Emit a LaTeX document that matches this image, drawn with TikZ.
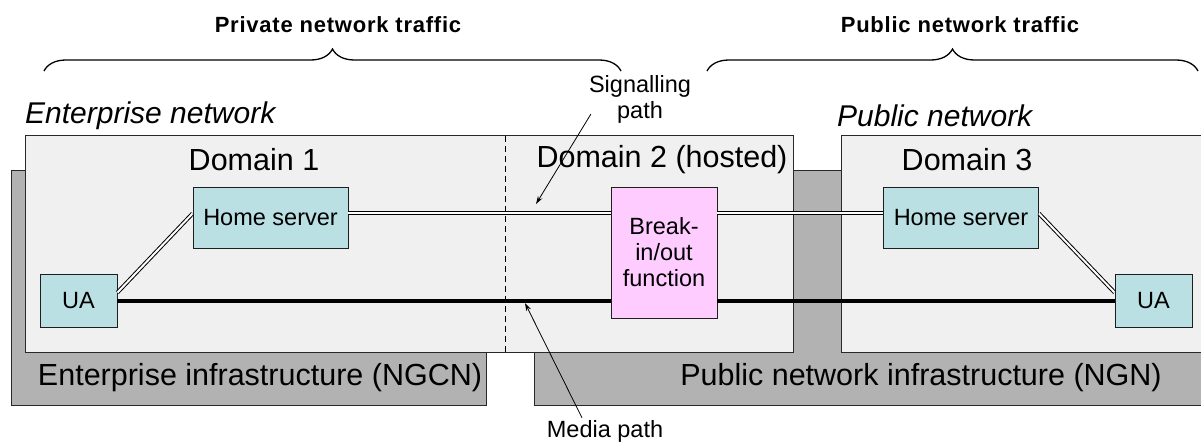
\documentclass[tikz,border=0pt]{standalone}
\usepackage{fontspec}
\setmainfont{Liberation Sans}
\newfontfamily\trafficfont[LetterSpace=3.5]{Liberation Sans}
\usetikzlibrary{arrows.meta,calc,decorations.pathreplacing}

\begin{document}
\begin{tikzpicture}[x=1pt,y=1pt,yscale=-1,xscale=1,
  domainbox/.style={draw={rgb, 255:red, 40; green, 40; blue, 40}, line width=0.9pt, fill={rgb, 255:red, 240; green, 240; blue, 240}},
  infrabox/.style={draw={rgb, 255:red, 40; green, 40; blue, 40}, line width=0.9pt, fill={rgb, 255:red, 178; green, 178; blue, 178}},
  hsbox/.style={draw={rgb, 255:red, 30; green, 30; blue, 30}, line width=0.9pt, fill={rgb, 255:red, 186; green, 224; blue, 227}, minimum width=155pt, minimum height=61pt, inner sep=0pt, font=\fontsize{23.5}{26}\selectfont},
  uabox/.style={hsbox, minimum width=77pt, minimum height=53pt},
  biobox/.style={hsbox, fill={rgb, 255:red, 255; green, 204; blue, 255}, minimum width=106pt, minimum height=131pt, align=center},
  bigtext/.style={inner sep=0pt, font=\fontsize{30.5}{34}\selectfont},
  smalltext/.style={inner sep=0pt, font=\fontsize{23.5}{26}\selectfont, align=center},
  sigline/.style={double, double distance=2pt, line width=1pt},
  medialine/.style={line width=4pt},
  pointer/.style={line width=0.8pt, -{Stealth[length=8pt,width=5pt]}},
  trafficbrace/.style={line width=1.3pt, decorate, decoration={brace, amplitude=22pt}}
]
\useasboundingbox (0,0) rectangle (1201,442);

%Shape: Rectangle [infrastructure]
\draw [infrabox] (11.7,170) rectangle (486.7,405);
\draw [infrabox] (534,170) rectangle (1205,405);
%Shape: Rectangle [domains]
\draw [domainbox] (25.7,135.7) rectangle (793,352);
\draw [domainbox] (841,135.7) rectangle (1205,352);
%Straight Lines [domain border]
\draw [line width=0.8pt, dash pattern={on 6pt off 4pt}] (505.7,135.7) -- (505.7,352);

% Text Node
\node [inner sep=0pt, font=\trafficfont\bfseries\fontsize{22}{26}\selectfont] (privlbl) at (338,25) {Private network traffic};
% Text Node
\node [inner sep=0pt, font=\trafficfont\bfseries\fontsize{22}{26}\selectfont] (publbl) at (960,25) {Public network traffic};
%Curve Lines [braces]
\draw [trafficbrace] (44,71) -- (621,71);
\draw [trafficbrace] (707,71) -- (1198,71);

% Text Node
\node [bigtext, font=\itshape\fontsize{30}{34}\selectfont, anchor=west] (entnet) at (25,116) {Enterprise network};
% Text Node
\node [bigtext, font=\itshape\fontsize{30}{34}\selectfont, anchor=west] (pubnet) at (837,116) {Public network};
% Text Node
\node [bigtext] (dom1) at (254,160) {Domain 1};
% Text Node
\node [bigtext] (dom2) at (662,160) {Domain 2 (hosted)};
% Text Node
\node [bigtext] (dom3) at (967,160) {Domain 3};
% Text Node
\node [bigtext] (entinfra) at (260,378) {Enterprise infrastructure (NGCN)};
% Text Node
\node [bigtext] (pubinfra) at (921,378) {Public network infrastructure (NGN)};

%Shape: Rectangle [functional entities]
\node [uabox] (ua1) at (78.5,300.5) {UA};
\node [hsbox] (hs1) at (270.5,217.5) {Home server};
\node [biobox] (bio) at (664,252.5) {Break-\\in/out\\function};
\node [hsbox] (hs3) at (961,217.5) {Home server};
\node [uabox] (ua3) at (1153.5,300.5) {UA};

%Straight Lines [signalling path]
\coordinate (sig1) at ($(hs1.east)+(0,-4.5)$);
\coordinate (sig3) at ($(hs3.west)+(0,-4.5)$);
\draw [sigline] ($(ua1.east)+(0,-8)$) -- ($(hs1.west)+(0,-4)$);
\draw [sigline] (sig1) -- (sig1 -| bio.west);
\draw [sigline] (sig3 -| bio.east) -- (sig3);
\draw [sigline] ($(hs3.east)+(0,-4)$) -- ($(ua3.west)+(0,-8)$);
%Straight Lines [media path]
\draw [medialine] (ua1.east) -- (ua1.east -| bio.west);
\draw [medialine] (bio.east |- ua3.west) -- (ua3.west);

% Text Node
\node [smalltext] (siglbl) at (640,99) {Signalling\\path};
\coordinate (sigtip) at (536,204);
\draw [pointer] ($(siglbl.south west)+(2,-9)$) -- (sigtip);
% Text Node
\node [smalltext] (medlbl) at (605,431) {Media path};
\coordinate (medtip) at (525,303);
\draw [pointer] ($(medlbl.north)+(-23,-2)$) -- (medtip);

\end{tikzpicture}
\end{document}
